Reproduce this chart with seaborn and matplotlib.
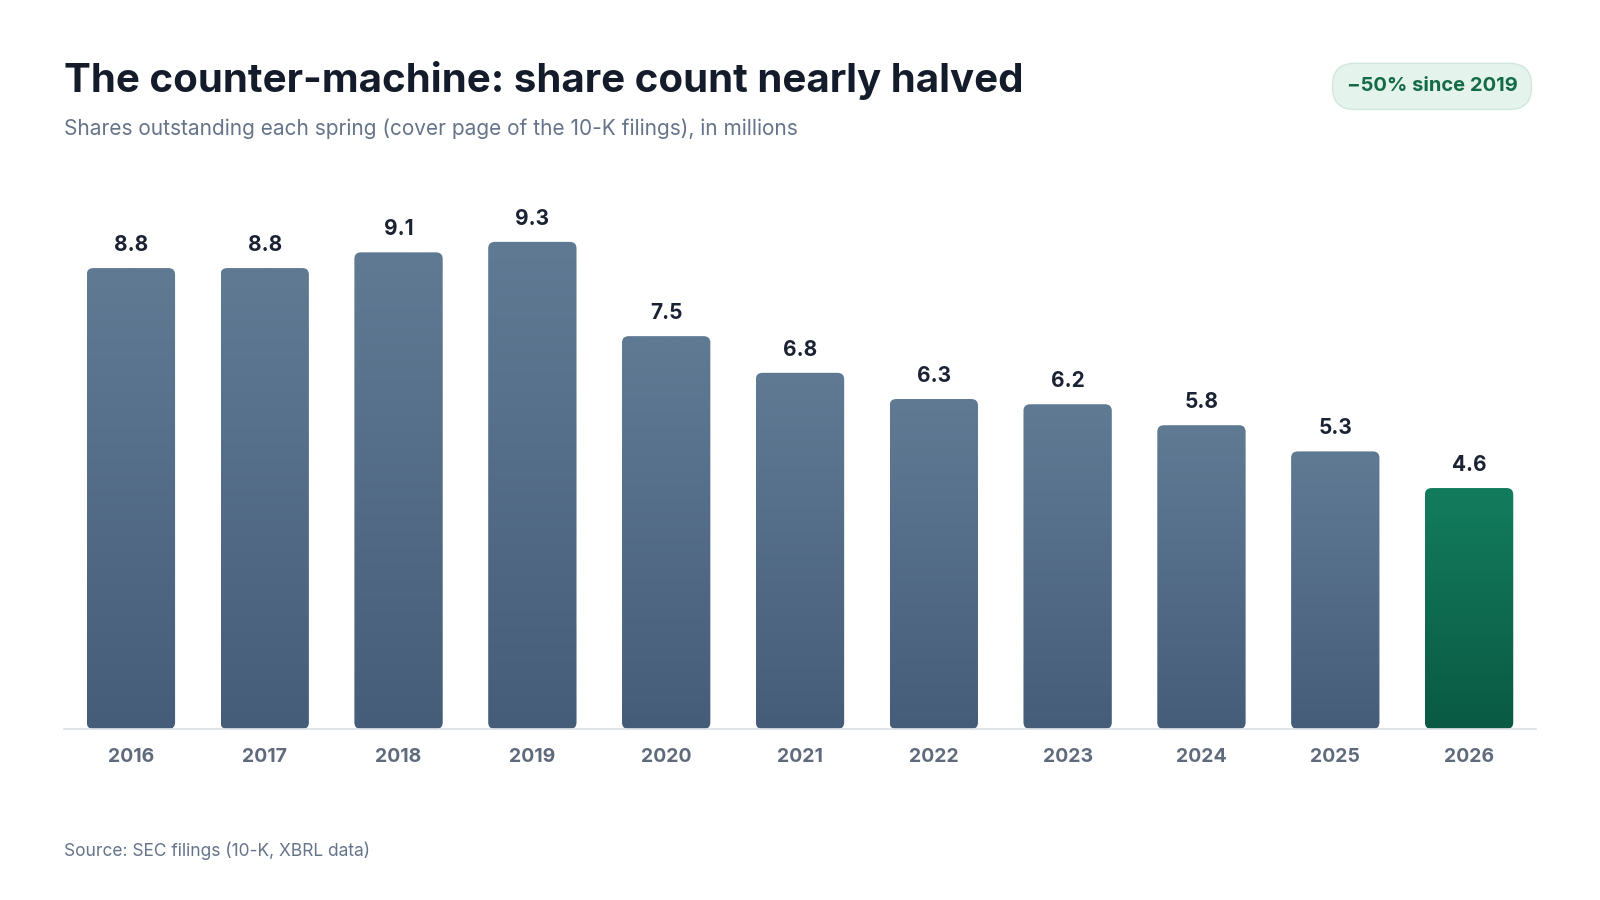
import numpy as np
import pandas as pd
import matplotlib.pyplot as plt
import matplotlib.colors as mcolors
from matplotlib.patches import FancyBboxPatch
import seaborn as sns

sns.set_theme(style='white')
plt.rcParams['font.family'] = ['Inter', 'DejaVu Sans']
plt.rcParams['figure.dpi'] = 100

years  = ['2016', '2017', '2018', '2019', '2020', '2021', '2022', '2023', '2024', '2025', '2026']
shares = [8.8, 8.8, 9.1, 9.3, 7.5, 6.8, 6.3, 6.2, 5.8, 5.3, 4.6]
df = pd.DataFrame({'Year': years, 'Shares': shares})

fig = plt.figure(figsize=(16, 9))
ax = fig.add_axes([0.04, 0.19, 0.92, 0.582])
sns.barplot(data=df, x='Year', y='Shares', width=0.66, ax=ax, color='#5a7390')
ax.set_xlim(-0.5, len(years) - 0.5); ax.set_ylim(0, 10)

slate = mcolors.LinearSegmentedColormap.from_list('slate', ['#465d7a', '#607a94'])
green = mcolors.LinearSegmentedColormap.from_list('green', ['#0a5a43', '#137c5d'])
grad = np.linspace(0, 1, 256).reshape(-1, 1)
for i, bar in enumerate(ax.patches):
    x, w, h = bar.get_x(), bar.get_width(), bar.get_height()
    bar.set_visible(False)
    clip = FancyBboxPatch((x, 0), w, h, boxstyle='round,pad=0,rounding_size=0.05',
                          mutation_aspect=2.5, fc='none', ec='none')
    ax.add_patch(clip)
    im = ax.imshow(grad, cmap=green if i == len(years) - 1 else slate, origin='lower',
                   extent=[x, x + w, 0, h], aspect='auto', zorder=2)
    im.set_clip_path(clip)
    ax.text(x + w / 2, h + 0.25, f'{shares[i]:.1f}', ha='center', va='bottom',
            fontsize=15, fontweight='bold', color='#1a2233')

ax.set_xlim(-0.5, len(years) - 0.5); ax.set_ylim(0, 10)
ax.set_xlabel(''); ax.set_ylabel(''); ax.set_yticks([])
for s in ['top', 'right', 'left']:
    ax.spines[s].set_visible(False)
ax.spines['bottom'].set_color('#dde1e6')
ax.tick_params(axis='x', length=0, pad=14, labelsize=14, labelcolor='#5f6b7d')
for lbl in ax.get_xticklabels():
    lbl.set_fontweight('bold')

fig.text(0.04, 0.91, 'The counter-machine: share count nearly halved', fontsize=29,
         fontweight='bold', color='#141b2b', va='center')
fig.text(0.04, 0.857, 'Shares outstanding each spring (cover page of the 10-K filings), in millions',
         fontsize=15, color='#66748a', va='center')
fig.text(0.04, 0.055, 'Source: SEC filings (10-K, XBRL data)', fontsize=12.5, color='#66748a', va='center')
fig.text(0.895, 0.904, '\u221250% since 2019', fontsize=14.5, fontweight='bold', color='#136b47',
         ha='center', va='center',
         bbox=dict(boxstyle='round,pad=0.7,rounding_size=1.1', fc='#e4f3ec', ec='#cfe8dc'))

plt.savefig('out.png')
